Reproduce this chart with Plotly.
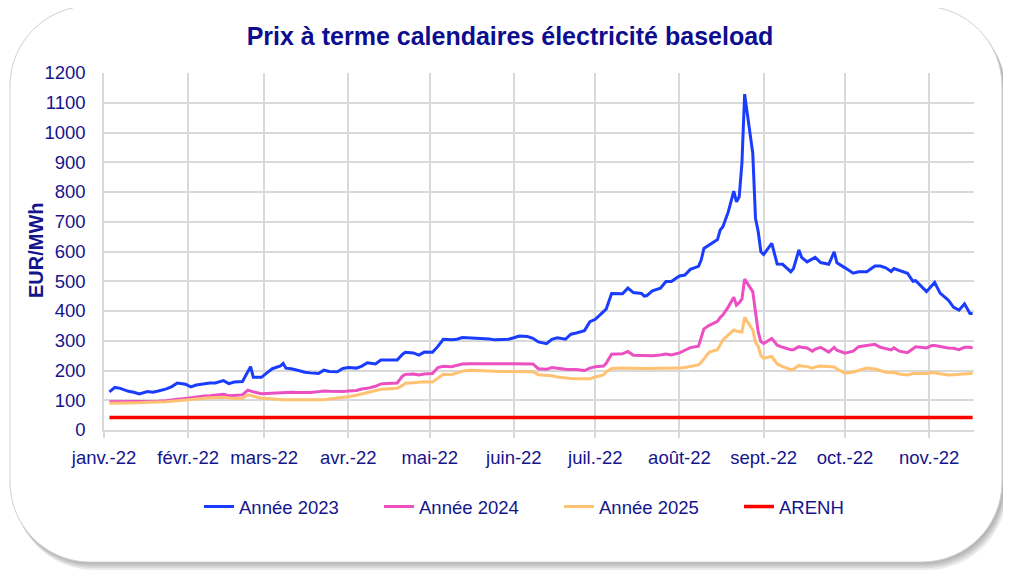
import plotly.graph_objects as go

# ---------------- data ----------------
dates = [
    "2022-01-03", "2022-01-05", "2022-01-07", "2022-01-10", "2022-01-12", "2022-01-14",
    "2022-01-17", "2022-01-19", "2022-01-21", "2022-01-24", "2022-01-26", "2022-01-28",
    "2022-01-31", "2022-02-02", "2022-02-04", "2022-02-07", "2022-02-09", "2022-02-11",
    "2022-02-14", "2022-02-16", "2022-02-18", "2022-02-21", "2022-02-23", "2022-02-24",
    "2022-02-25", "2022-02-28", "2022-03-02", "2022-03-04", "2022-03-07", "2022-03-08",
    "2022-03-09", "2022-03-11", "2022-03-14", "2022-03-16", "2022-03-18", "2022-03-21",
    "2022-03-23", "2022-03-25", "2022-03-28", "2022-03-30", "2022-04-01", "2022-04-04",
    "2022-04-06", "2022-04-08", "2022-04-11", "2022-04-13", "2022-04-15", "2022-04-19",
    "2022-04-21", "2022-04-22", "2022-04-25", "2022-04-27", "2022-04-29", "2022-05-02",
    "2022-05-04", "2022-05-06", "2022-05-09", "2022-05-11", "2022-05-13", "2022-05-16",
    "2022-05-18", "2022-05-20", "2022-05-23", "2022-05-25", "2022-05-27", "2022-05-30",
    "2022-06-01", "2022-06-03", "2022-06-06", "2022-06-08", "2022-06-10", "2022-06-13",
    "2022-06-15", "2022-06-17", "2022-06-20", "2022-06-22", "2022-06-24", "2022-06-27",
    "2022-06-29", "2022-07-01", "2022-07-04", "2022-07-05", "2022-07-07", "2022-07-11",
    "2022-07-13", "2022-07-15", "2022-07-18", "2022-07-19", "2022-07-20", "2022-07-22",
    "2022-07-25", "2022-07-27", "2022-07-29", "2022-08-01", "2022-08-03", "2022-08-05",
    "2022-08-08", "2022-08-09", "2022-08-10", "2022-08-12", "2022-08-15", "2022-08-16",
    "2022-08-17", "2022-08-19", "2022-08-21", "2022-08-22", "2022-08-23", "2022-08-24",
    "2022-08-25", "2022-08-28", "2022-08-29", "2022-08-30", "2022-08-31", "2022-09-01",
    "2022-09-04", "2022-09-06", "2022-09-08", "2022-09-11", "2022-09-12", "2022-09-14",
    "2022-09-15", "2022-09-17", "2022-09-19", "2022-09-20", "2022-09-22", "2022-09-25",
    "2022-09-27", "2022-09-28", "2022-10-01", "2022-10-04", "2022-10-06", "2022-10-09",
    "2022-10-12", "2022-10-14", "2022-10-16", "2022-10-18", "2022-10-19", "2022-10-21",
    "2022-10-24", "2022-10-26", "2022-10-27", "2022-10-31", "2022-11-02", "2022-11-03",
    "2022-11-05", "2022-11-08", "2022-11-10", "2022-11-12", "2022-11-14", "2022-11-16",
    "2022-11-17",
]

annee_2023 = [
    128, 143, 140, 130, 127, 121, 129, 127, 131, 138, 146, 158,
    154, 145, 151, 155, 158, 158, 166, 156, 161, 163, 196, 213,
    177, 177, 192, 206, 215, 224, 208, 206, 199, 194, 192, 190,
    201, 197, 196, 207, 210, 208, 215, 226, 222, 235, 235, 235,
    255, 261, 259, 252, 262, 261, 281, 305, 303, 305, 311, 310,
    309, 308, 306, 303, 304, 305, 310, 316, 314, 308, 296, 290,
    305, 310, 305, 322, 326, 334, 364, 372, 398, 406, 459, 458,
    477, 462, 459, 450, 452, 468, 477, 499, 499, 518, 521, 540,
    550, 571, 610, 622, 640, 672, 683, 734, 803, 767, 784, 896,
    1129, 930, 712, 667, 599, 590, 627, 558, 557, 532, 543, 605,
    580, 565, 575, 580, 563, 557, 599, 562, 545, 527, 532, 532,
    551, 551, 545, 533, 543, 536, 527, 500, 502, 465, 487, 496,
    460, 437, 412, 403, 424, 392, 392,
]

annee_2024 = [
    95, 95, 95, 95, 95, 95, 95, 96, 97, 98, 101, 103,
    106, 109, 112, 114, 115, 118, 120, 115, 117, 118, 134, 131,
    128, 122, 123, 124, 127, 128, 128, 127, 126, 126, 126, 129,
    131, 130, 129, 129, 131, 133, 138, 140, 147, 155, 156, 158,
    182, 187, 188, 185, 188, 190, 210, 214, 213, 218, 222, 223,
    223, 222, 222, 222, 222, 222, 222, 223, 223, 222, 206, 204,
    210, 207, 204, 203, 203, 200, 208, 213, 215, 224, 255, 256,
    264, 251, 250, 250, 250, 250, 252, 255, 252, 259, 268, 277,
    282, 310, 340, 352, 365, 378, 387, 414, 446, 420, 428, 440,
    507, 465, 390, 330, 297, 291, 308, 285, 278, 270, 270, 280,
    278, 276, 265, 272, 278, 262, 278, 268, 258, 265, 280, 285,
    288, 278, 273, 269, 276, 265, 260, 272, 280, 276, 284, 284,
    280, 276, 275, 270, 278, 278, 275,
]

annee_2025 = [
    90, 90, 90, 91, 91, 92, 93, 93, 94, 95, 97, 99,
    102, 104, 106, 107, 108, 109, 110, 108, 106, 107, 118, 116,
    114, 107, 106, 104, 102, 102, 102, 102, 102, 101, 100, 101,
    102, 104, 107, 110, 112, 117, 122, 126, 133, 137, 138, 140,
    150, 157, 159, 161, 162, 161, 175, 187, 186, 193, 198, 201,
    200, 199, 197, 197, 197, 197, 197, 198, 198, 196, 186, 184,
    182, 178, 174, 173, 172, 171, 172, 178, 185, 195, 207, 208,
    207, 206, 207, 207, 207, 207, 208, 207, 207, 208, 210, 213,
    219, 227, 240, 262, 270, 288, 303, 320, 336, 333, 331, 329,
    379, 336, 295, 282, 250, 241, 247, 222, 213, 203, 205, 217,
    215, 213, 208, 212, 215, 213, 212, 205, 191, 195, 201, 208,
    205, 200, 194, 193, 193, 188, 185, 190, 190, 190, 193, 192,
    188, 185, 186, 188, 189, 190, 190,
]

arenh_dates = ["2022-01-03", "2022-11-17"]
arenh = [42, 42]

month_ticks = ["2022-01-01", "2022-02-01", "2022-03-01", "2022-04-01", "2022-05-01",
               "2022-06-01", "2022-07-01", "2022-08-01", "2022-09-01", "2022-10-01",
               "2022-11-01"]
month_labels = ["janv.-22", "févr.-22", "mars-22", "avr.-22", "mai-22", "juin-22",
                "juil.-22", "août-22", "sept.-22", "oct.-22", "nov.-22"]

# ---------------- styling ----------------
OFF = 8                     # page body margin
W, H = 1011 - OFF, 577 - OFF
PL, PR, PT, PB = 104, 974, 73, 430   # plot area in screen pixels
NAVY = "#14148c"
FONT = "Liberation Sans, Arial, sans-serif"
GRID = "#d9d9d9"


def X(px):
    return (px - PL) / (PR - PL)


def Y(py):
    return (PB - py) / (PB - PT)


def rounded_rect(x0, y0, x1, y1, r):
    k = 0.5523 * r
    pts = [
        ("M", [(x0 + r, y0)]),
        ("L", [(x1 - r, y0)]),
        ("C", [(x1 - r + k, y0), (x1, y0 + r - k), (x1, y0 + r)]),
        ("L", [(x1, y1 - r)]),
        ("C", [(x1, y1 - r + k), (x1 - r + k, y1), (x1 - r, y1)]),
        ("L", [(x0 + r, y1)]),
        ("C", [(x0 + r - k, y1), (x0, y1 - r + k), (x0, y1 - r)]),
        ("L", [(x0, y0 + r)]),
        ("C", [(x0, y0 + r - k), (x0 + r - k, y0), (x0 + r, y0)]),
    ]
    s = ""
    for cmd, ps in pts:
        s += cmd + " " + " ".join(f"{X(a):.5f},{Y(b):.5f}" for a, b in ps) + " "
    return s + "Z"


shapes = []
for dx, dy in [(5, 8), (4, 6), (3, 4), (2, 2)]:
    shapes.append(dict(type="path", xref="paper", yref="paper", layer="below",
                       path=rounded_rect(10 + dx - 1, 6 + dy, 1002 + dx, 562 + dy, 80),
                       fillcolor="rgba(0,0,0,0.08)", line=dict(width=0)))
shapes.append(dict(type="path", xref="paper", yref="paper", layer="below",
                   path=rounded_rect(10, 6, 1002, 562, 80),
                   fillcolor="white", line=dict(color="#d0d0d0", width=1)))

fig = go.Figure()
fig.add_trace(go.Scatter(x=dates, y=annee_2023, name="Année 2023", mode="lines",
                         line=dict(color="#1a3cff", width=3)))
fig.add_trace(go.Scatter(x=dates, y=annee_2024, name="Année 2024", mode="lines",
                         line=dict(color="#eb4fc2", width=3)))
fig.add_trace(go.Scatter(x=dates, y=annee_2025, name="Année 2025", mode="lines",
                         line=dict(color="#ffc272", width=3)))
fig.add_trace(go.Scatter(x=arenh_dates, y=arenh, name="ARENH", mode="lines",
                         line=dict(color="#ff0000", width=3.5)))

fig.update_layout(
    width=W, height=H,
    margin=dict(l=PL - OFF, r=W - (PR - OFF), t=PT - OFF, b=H - (PB - OFF), pad=0),
    paper_bgcolor="white",
    plot_bgcolor="rgba(0,0,0,0)",
    font=dict(family=FONT, color=NAVY, size=18.5),
    title=dict(text="<b>Prix à terme calendaires électricité baseload</b>",
               xref="container", yref="container",
               x=(510 - OFF) / W, xanchor="center",
               y=1 - (36 - OFF) / H, yanchor="middle",
               font=dict(family=FONT, size=25, color="#0d0d8f")),
    showlegend=True,
    legend=dict(orientation="h", x=X(559), xanchor="center", y=Y(507), yanchor="middle",
                font=dict(family=FONT, size=18.5, color=NAVY),
                entrywidth=135, entrywidthmode="pixels",
                bgcolor="rgba(0,0,0,0)"),
    shapes=shapes,
    annotations=[dict(text="<b>EUR/MWh</b>", xref="paper", yref="paper",
                      x=X(36), y=Y(250), xanchor="center", yanchor="middle",
                      textangle=-90, showarrow=False,
                      font=dict(family=FONT, size=20, color=NAVY))],
    xaxis=dict(
        type="date",
        range=["2022-01-01", "2022-11-17 12:00"],
        tickmode="array", tickvals=month_ticks, ticktext=month_labels,
        showgrid=True, gridcolor=GRID, gridwidth=1.5,
        showline=True, linecolor=GRID, linewidth=1.5,
        ticks="outside", ticklen=6, tickcolor=GRID, tickwidth=1.5,
        ticklabelstandoff=4,
        tickfont=dict(family=FONT, size=18.5, color=NAVY),
        zeroline=False,
    ),
    yaxis=dict(
        range=[0, 1200], dtick=100, tick0=0,
        showgrid=True, gridcolor=GRID, gridwidth=1.5,
        showline=True, linecolor=GRID, linewidth=1.5,
        ticks="", ticklabelstandoff=13,
        tickfont=dict(family=FONT, size=18.5, color=NAVY),
        zeroline=False,
    ),
)

fig.write_html("out.html")
